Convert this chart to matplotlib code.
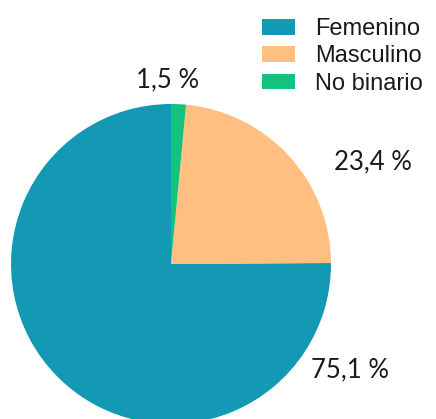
import matplotlib
matplotlib.use("Agg")
import matplotlib.pyplot as plt

categories = ["Femenino", "Masculino", "No binario"]
shares = [75.1, 23.4, 1.5]
share_labels = ["75,1 %", "23,4 %", "1,5 %"]
colors = ["#1399B3", "#FEBF80", "#13C27C"]

# where each percent label sits, in pie radius units
label_pos = [(1.12, -0.66), (1.26, 0.64), (-0.02, 1.15)]

fig = plt.figure(figsize=(4.36, 4.19), dpi=100)
ax = fig.add_axes([11 / 436, (419 - 264 - 160) / 419, 320 / 436, 320 / 419])

wedges, _ = ax.pie(shares, colors=colors, startangle=90, counterclock=True,
                   radius=1, wedgeprops=dict(linewidth=0))
ax.set_xlim(-1, 1)
ax.set_ylim(-1, 1)
ax.set_aspect("equal")
ax.axis("off")

for txt, (x, y) in zip(share_labels, label_pos):
    ax.text(x, y, txt, ha="center", va="center", fontsize=18.5,
            family="Lato", color="#1a1a1a", clip_on=False)

fig.legend(wedges, categories, loc="upper left",
           bbox_to_anchor=(262 / 436, 1 - 18 / 419),
           frameon=False, borderpad=0, borderaxespad=0,
           prop=dict(family="Liberation Sans", size=17),
           handlelength=1.4, handleheight=0.64, handletextpad=0.85,
           labelspacing=0.23, labelcolor="#1a1a1a")

fig.savefig("out.png", dpi=100)
